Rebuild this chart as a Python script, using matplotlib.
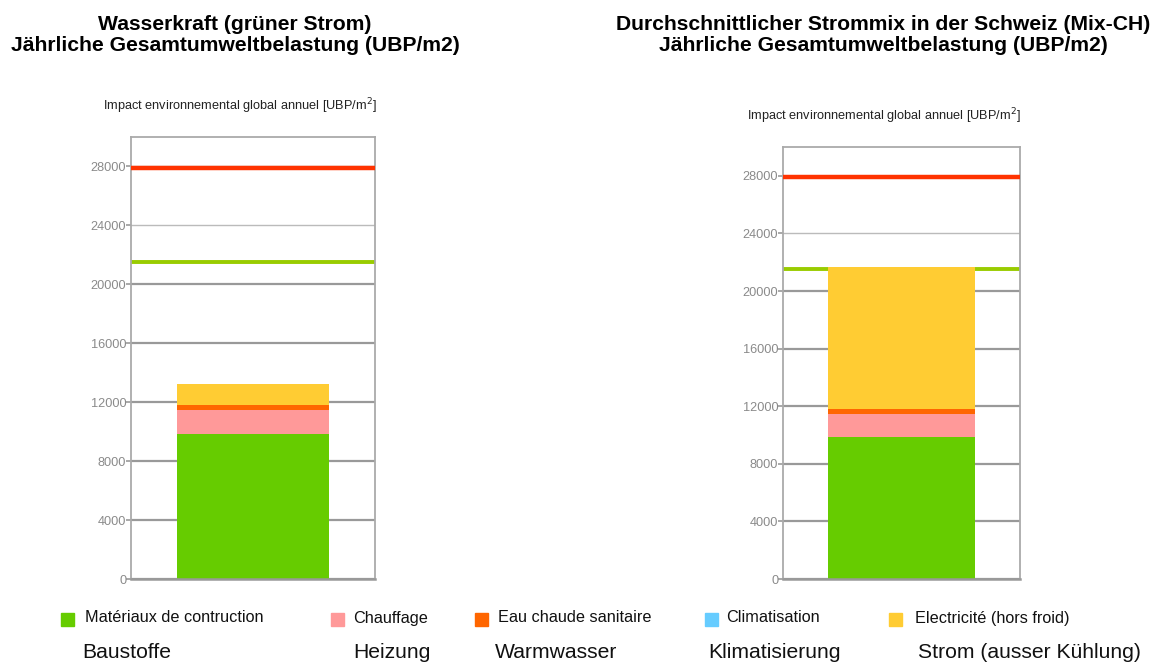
import matplotlib.pyplot as plt
from matplotlib.patches import Rectangle

plt.rcParams['font.family'] = ['Liberation Sans', 'DejaVu Sans']

categories = ["Matériaux de contruction", "Chauffage", "Eau chaude sanitaire",
              "Climatisation", "Electricité (hors froid)"]
categories_de = ["Baustoffe", "Heizung", "Warmwasser", "Klimatisierung",
                 "Strom (ausser Kühlung)"]
colors = ["#66cc00", "#ff9999", "#ff6600", "#66ccff", "#ffcc33"]

# values per chart (UBP/m2)
hydro = [9850, 1610, 360, 0, 1400]
mix_ch = [9850, 1610, 340, 0, 9880]
limit_red = 27900
limit_green = 21500
yticks = [0, 4000, 8000, 12000, 16000, 20000, 24000, 28000]

titles = ["Wasserkraft (grüner Strom)\nJährliche Gesamtumweltbelastung (UBP/m2)",
          "Durchschnittlicher Strommix in der Schweiz (Mix-CH)\nJährliche Gesamtumweltbelastung (UBP/m2)"]

W, H = 1156, 664
fig = plt.figure(figsize=(W / 100, H / 100), dpi=100)


def fx(px):
    return px / W


def fy(py):
    return 1 - py / H


# axes boxes in pixels: left, top, right, bottom
boxes = [(131, 137, 375, 579), (783, 147, 1020, 579)]
title_x = [235, 883]

for data, box, title, tx in zip([hydro, mix_ch], boxes, titles, title_x):
    l, t, r, b = box
    ax = fig.add_axes([fx(l), fy(b), fx(r - l), (b - t) / H])
    bottom = 0
    for v, c in zip(data, colors):
        ax.bar(0, v, bottom=bottom, width=0.62, color=c, zorder=2)
        bottom += v
    ax.axhline(limit_red, color="#ff3300", lw=3.2, zorder=3)
    ax.axhline(limit_green, color="#99cc00", lw=2.8, zorder=1.5)
    ax.set_xlim(-0.5, 0.5)
    ax.set_ylim(0, 30000)
    ax.set_xticks([])
    ax.set_yticks(yticks)
    ax.tick_params(axis="y", length=3.5, width=1.2, color="#999999",
                   labelcolor="#8a8a8a", labelsize=9.2, pad=0)
    ax.grid(axis="y", color="#999999", lw=1.6, zorder=1)
    for tick, gl in zip(yticks, ax.get_ygridlines()):
        if tick > 20000:
            gl.set_color("#bbbbbb")
            gl.set_linewidth(1.0)
    for s in ["top", "right", "left"]:
        ax.spines[s].set_color("#aaaaaa")
        ax.spines[s].set_linewidth(1.3)
    ax.spines["bottom"].set_color("#999999")
    ax.spines["bottom"].set_linewidth(1.8)
    ax.annotate("Impact environnemental global annuel [UBP/m$^2$]",
                xy=(1.005, 1), xycoords="axes fraction", xytext=(0, 31),
                textcoords="offset pixels", ha="right", va="center",
                fontsize=9.2, color="#222222")
    fig.text(fx(tx), fy(35), title, ha="center", va="center", fontsize=15.2,
             fontweight="bold", linespacing=1.1)

# legend row
square_x = [61, 331, 475, 705, 889]
label_x = [85, 353, 498, 726, 915]
de_x = [82, 353, 495, 708, 918]
for cat, de, c, sx, lx, dx in zip(categories, categories_de, colors,
                                  square_x, label_x, de_x):
    fig.patches.append(Rectangle((fx(sx), fy(626)), fx(13), 13 / H, color=c,
                                 transform=fig.transFigure))
    fig.text(fx(lx), fy(618), cat, ha="left", va="center", fontsize=11.7,
             color="#111111")
    fig.text(fx(dx), fy(653), de, ha="left", va="center", fontsize=15.2,
             color="#111111")

fig.savefig("out.png", dpi=100)
